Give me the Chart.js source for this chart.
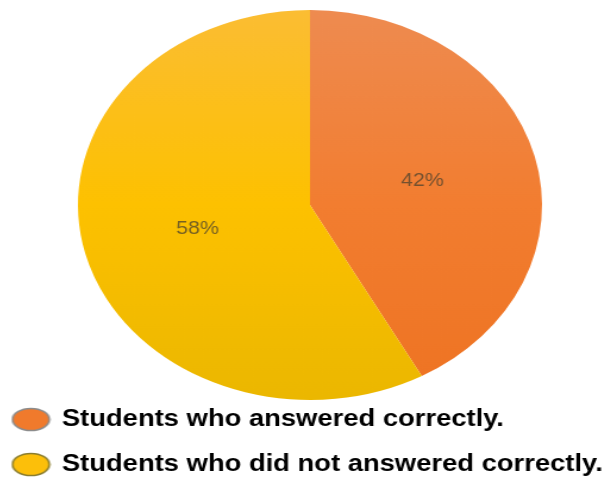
<!DOCTYPE html>
<html>
<head>
<meta charset="utf-8">
<script src="https://cdn.jsdelivr.net/npm/chart.js@4.4.1/dist/chart.umd.min.js"></script>
<style>
  html, body { margin: 0; padding: 0; background: #fff; overflow: hidden; width: 606px; height: 478px; }
  /* the chart is laid out narrow, then stretched sideways so the pie becomes an oval */
  #wrap { position: absolute; left: 0; top: 0; width: 542px; height: 486px;
          transform-origin: 0 0; transform: translateX(-12.5px) scaleX(1.19); }
</style>
</head>
<body>
<div id="wrap"><canvas id="pie"></canvas></div>
<script>
// slice data
const labels = ["Students who answered correctly.", "Students who did not answered correctly."];
const shares = [42, 58];

const canvas = document.getElementById("pie");
const ctx = canvas.getContext("2d");

// slight top-to-bottom shading on each slice
function shade(top, mid, bottom) {
  const g = ctx.createLinearGradient(0, 10, 0, 400);
  g.addColorStop(0, top);
  g.addColorStop(0.5, mid);
  g.addColorStop(1, bottom);
  return g;
}
const sliceColors = [
  shade("#ee8b50", "#f27d30", "#ee7322"),
  shade("#fbbd33", "#fdc100", "#ebb700")
];

// oval legend swatches
function swatch(fill, edge) {
  const c = document.createElement("canvas");
  c.width = 34; c.height = 25;
  const g = c.getContext("2d");
  g.beginPath();
  g.ellipse(17, 12.5, 15.5, 11, 0, 0, Math.PI * 2);
  g.fillStyle = fill;
  g.fill();
  g.lineWidth = 1.6;
  g.strokeStyle = edge;
  g.stroke();
  return c;
}
const swatches = [swatch("#f07a2c", "#8c8c8c"), swatch("#fcbf0a", "#8a7d2e")];

// percentage text inside each slice
const sliceLabels = {
  id: "sliceLabels",
  afterDatasetsDraw(chart) {
    const c = chart.ctx;
    const arcs = chart.getDatasetMeta(0).data;
    c.save();
    c.font = "18px 'Liberation Sans', Arial, sans-serif";
    c.fillStyle = "rgba(75,65,45,0.75)";
    c.textAlign = "center";
    c.textBaseline = "middle";
    c.filter = "blur(0.5px)";
    arcs.forEach((arc, i) => {
      const mid = (arc.startAngle + arc.endAngle) / 2;
      const r = arc.outerRadius * 0.5;
      c.fillText(shares[i] + "%", arc.x + Math.cos(mid) * r, arc.y + Math.sin(mid) * r);
    });
    c.restore();
  }
};

new Chart(ctx, {
  type: "pie",
  data: {
    labels,
    datasets: [{
      data: shares,
      backgroundColor: sliceColors,
      borderWidth: 0,
      radius: 195,
      clip: false
    }]
  },
  options: {
    responsive: true,
    maintainAspectRatio: false,
    animation: false,
    layout: { padding: { top: 24 } },
    plugins: {
      tooltip: { enabled: false },
      legend: {
        position: "bottom",
        align: "start",
        labels: {
          usePointStyle: true,
          pointStyleWidth: 29,
          padding: 22,
          color: "#111",
          font: { family: "'Liberation Sans', Arial, sans-serif", size: 23, weight: "bold" },
          generateLabels(chart) {
            return labels.map((text, i) => ({
              text,
              pointStyle: swatches[i],
              fillStyle: "#000",
              strokeStyle: "#000",
              lineWidth: 0,
              hidden: false,
              index: i
            }));
          }
        }
      }
    }
  },
  plugins: [sliceLabels]
});
</script>
</body>
</html>
